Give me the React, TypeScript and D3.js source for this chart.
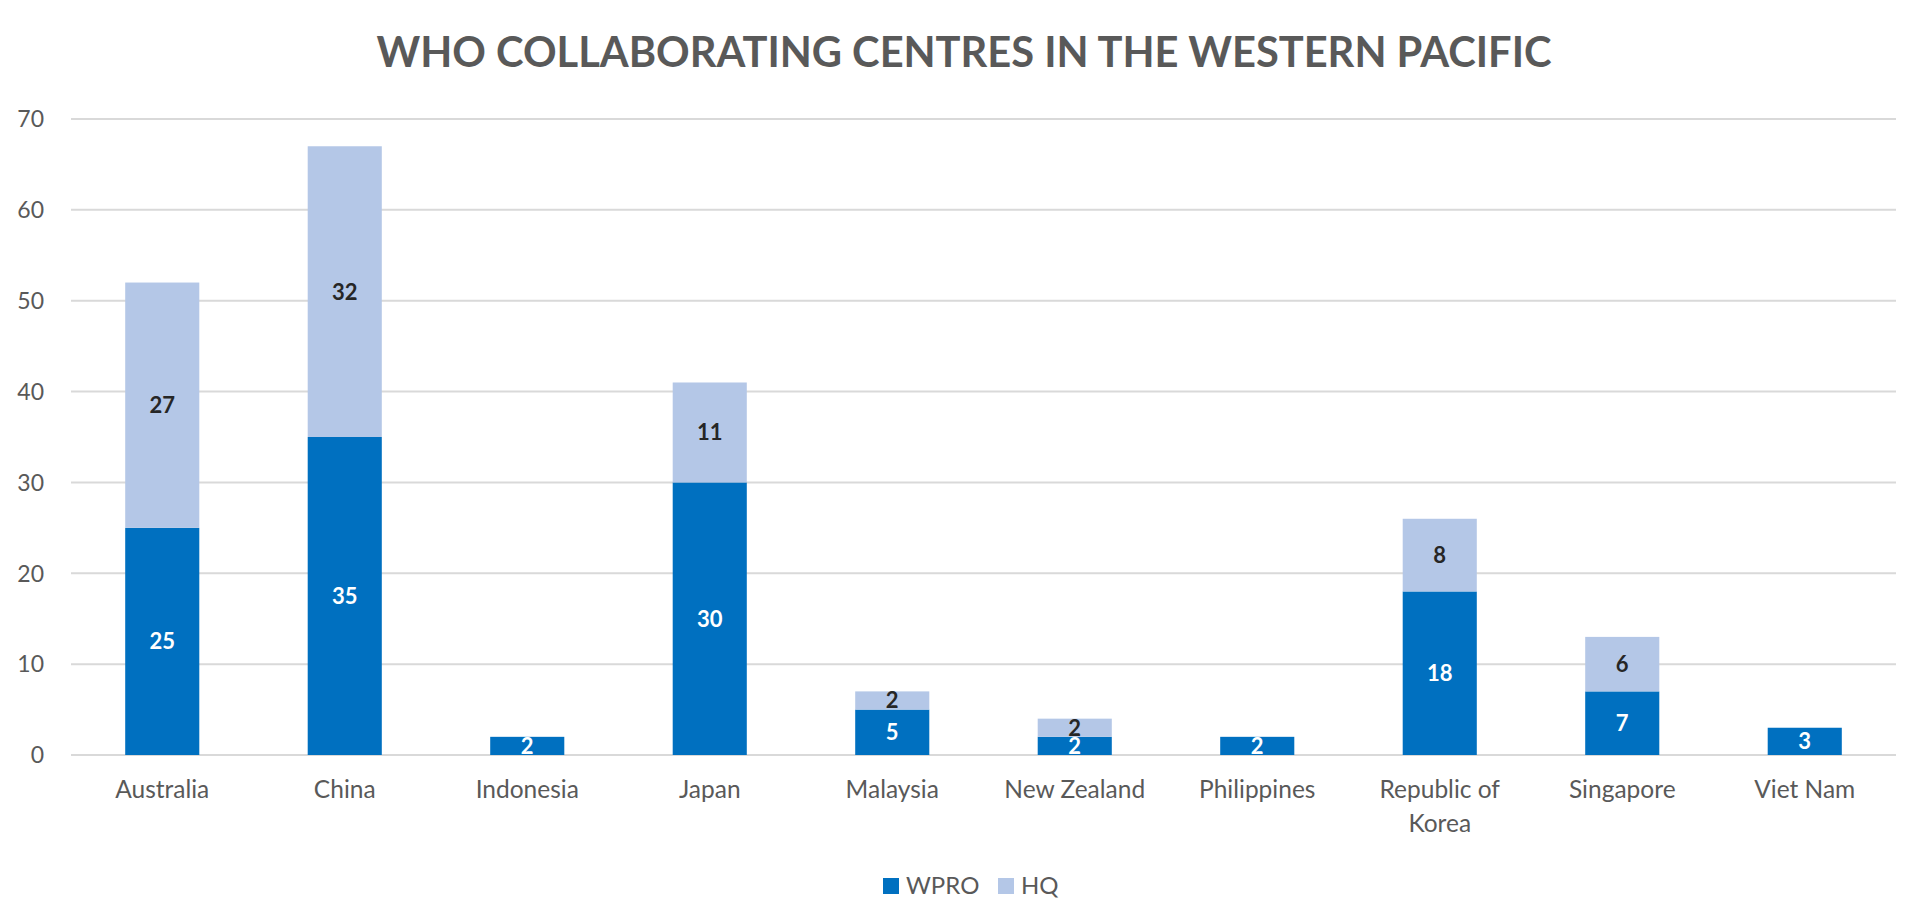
import { useEffect, useRef } from 'react';
import * as d3 from 'd3';

const categories = [
  'Australia', 'China', 'Indonesia', 'Japan', 'Malaysia',
  'New Zealand', 'Philippines', 'Republic of Korea', 'Singapore', 'Viet Nam',
];
const wproValues = [25, 35, 2, 30, 5, 2, 2, 18, 7, 3];
const hqValues = [27, 32, 0, 11, 2, 2, 0, 8, 6, 0];
const yTicks = [0, 10, 20, 30, 40, 50, 60, 70];
const seriesNames = ['WPRO', 'HQ'];
const seriesColors = ['#0070C0', '#B4C7E7'];
const title = 'WHO COLLABORATING CENTRES IN THE WESTERN PACIFIC';

const FONT = 'Lato, "Open Sans", sans-serif';

export default function App() {
  const svgRef = useRef<SVGSVGElement>(null);
  const width = 1920;
  const height = 918;

  useEffect(() => {
    if (!svgRef.current) return;
    const svg = d3.select(svgRef.current);
    svg.selectAll('*').remove();

    const left = 71;
    const right = 1896;
    const top = 119;
    const bottom = 755;

    const x = d3.scaleBand<string>()
      .domain(categories)
      .range([left, right])
      .paddingInner(0.594)
      .paddingOuter(0.297);

    const y = d3.scaleLinear().domain([0, 70]).range([bottom, top]);

    // title
    svg.append('text')
      .attr('x', 964)
      .attr('y', 67)
      .attr('text-anchor', 'middle')
      .attr('fill', '#595959')
      .attr('font-family', FONT)
      .attr('font-weight', 700)
      .attr('font-size', '42px')
      .attr('textLength', 1175)
      .attr('lengthAdjust', 'spacingAndGlyphs')
      .text(title);

    // gridlines
    svg.append('g')
      .selectAll('line')
      .data(yTicks)
      .enter()
      .append('line')
      .attr('x1', left)
      .attr('x2', right)
      .attr('y1', d => y(d))
      .attr('y2', d => y(d))
      .attr('stroke', '#D9D9D9')
      .attr('stroke-width', 2);

    // y tick labels
    svg.append('g')
      .selectAll('text')
      .data(yTicks)
      .enter()
      .append('text')
      .attr('x', 44)
      .attr('y', d => y(d))
      .attr('dy', '0.36em')
      .attr('text-anchor', 'end')
      .attr('fill', '#595959')
      .attr('font-family', FONT)
      .attr('font-size', '23px')
      .text(d => d);

    const rows = categories.map((c, i) => ({ cat: c, wpro: wproValues[i], hq: hqValues[i] }));
    const stack = d3.stack<typeof rows[number]>().keys(['wpro', 'hq']);
    const layers = stack(rows);

    layers.forEach((layer, li) => {
      const g = svg.append('g');
      g.selectAll('rect')
        .data(layer.filter(d => d[1] - d[0] > 0))
        .enter()
        .append('rect')
        .attr('x', d => x(d.data.cat)!)
        .attr('width', x.bandwidth())
        .attr('y', d => y(d[1]))
        .attr('height', d => y(d[0]) - y(d[1]))
        .attr('fill', seriesColors[li]);

      g.selectAll('text')
        .data(layer.filter(d => d[1] - d[0] > 0))
        .enter()
        .append('text')
        .attr('x', d => x(d.data.cat)! + x.bandwidth() / 2)
        .attr('y', d => (y(d[0]) + y(d[1])) / 2)
        .attr('dy', '0.36em')
        .attr('text-anchor', 'middle')
        .attr('fill', li === 0 ? '#FFFFFF' : '#262626')
        .attr('font-family', FONT)
        .attr('font-weight', 700)
        .attr('font-size', '22px')
        .text(d => d[1] - d[0]);
    });

    // category labels with wrapping
    const catG = svg.append('g');
    categories.forEach(c => {
      const cx = x(c)! + x.bandwidth() / 2;
      const t = catG.append('text')
        .attr('x', cx)
        .attr('y', 798)
        .attr('text-anchor', 'middle')
        .attr('fill', '#595959')
        .attr('font-family', FONT)
        .attr('font-size', '24.5px');
      const words = c.split(' ');
      let line: string[] = [];
      let tspan = t.append('tspan').attr('x', cx).attr('dy', 0);
      words.forEach(w => {
        line.push(w);
        tspan.text(line.join(' '));
        if ((tspan.node() as SVGTSpanElement).getComputedTextLength() > 160 && line.length > 1) {
          line.pop();
          tspan.text(line.join(' '));
          line = [w];
          tspan = t.append('tspan')
            .attr('x', cx)
            .attr('dy', 34)
            .text(w);
        }
      });
    });

    // legend
    const legend = svg.append('g');
    const legendX = [883, 998];
    seriesNames.forEach((name, i) => {
      legend.append('rect')
        .attr('x', legendX[i])
        .attr('y', 878)
        .attr('width', 16)
        .attr('height', 16)
        .attr('fill', seriesColors[i]);
      legend.append('text')
        .attr('x', legendX[i] + 23)
        .attr('y', 894)
        .attr('fill', '#595959')
        .attr('font-family', FONT)
        .attr('font-size', '24px')
        .text(name);
    });
  }, []);

  return (
    <svg
      ref={svgRef}
      width={width}
      height={height}
      style={{ position: 'absolute', left: 0, top: 0, background: '#fff' }}
    />
  );
}
